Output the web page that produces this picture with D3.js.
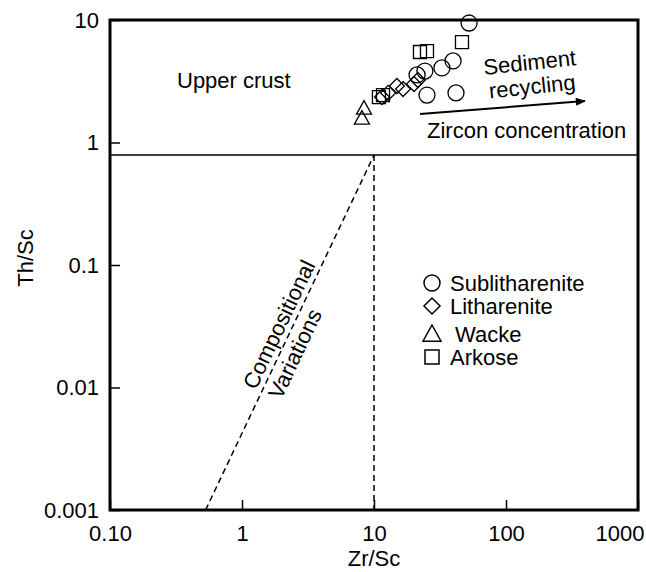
<!DOCTYPE html>
<html>
<head>
<meta charset="utf-8">
<script src="https://cdn.jsdelivr.net/npm/d3@7"></script>
<style>
  body { margin: 0; background: #fff; }
  text { font-family: "Liberation Sans", Arial, sans-serif; fill: #000; }
</style>
</head>
<body>
<div id="chart"></div>
<script>
// Zr/Sc vs Th/Sc values
const sublitharenite = [
    { zr: 52.5, th: 9.45 }, { zr: 39.7, th: 4.63 }, { zr: 32.7, th: 4.06 },
    { zr: 24.3, th: 3.83 }, { zr: 21.2, th: 3.56 }, { zr: 25.2, th: 2.44 },
    { zr: 41.8, th: 2.54 }
];
const litharenite = [
    { zr: 11.5, th: 2.35 }, { zr: 12.8, th: 2.54 }, { zr: 14.9, th: 2.89 },
    { zr: 16.6, th: 2.73 }, { zr: 20.1, th: 3.0 }, { zr: 21.5, th: 3.24 }
];
const wacke = [
    { zr: 8.4, th: 1.91 }, { zr: 8.1, th: 1.58 }
];
const arkose = [
    { zr: 22.3, th: 5.48 }, { zr: 25.2, th: 5.58 }, { zr: 46.4, th: 6.61 },
    { zr: 10.9, th: 2.35 }, { zr: 11.7, th: 2.44 }
];

const xTickValues = [0.1, 1, 10, 100, 1000];
const xTickLabels = ["0.10", "1", "10", "100", "1000"];
const yTickValues = [0.001, 0.01, 0.1, 1, 10];
const yTickLabels = ["0.001", "0.01", "0.1", "1", "10"];

// reference lines: upper crust Th/Sc, Zr/Sc and compositional trend
const upperCrustTh = 0.79;
const upperCrustZr = 10;
const compositionLine = [{ zr: 0.53, th: 0.001 }, { zr: 10, th: 0.79 }];
const recyclingArrow = [{ zr: 22.3, th: 1.71 }, { zr: 396, th: 2.18 }];

const width = 646;
const height = 572;
const margin = { top: 20, right: 8, bottom: 62, left: 110 };
const fontSize = "22px";

const svg = d3.select("#chart")
    .append("svg")
    .attr("width", width)
    .attr("height", height);

const x = d3.scaleLog()
    .domain([0.1, 1000])
    .range([margin.left, width - margin.right]);

const y = d3.scaleLog()
    .domain([0.001, 10])
    .range([height - margin.bottom, margin.top]);

svg.append("defs").append("marker")
    .attr("id", "arrow")
    .attr("viewBox", "0 0 10 8")
    .attr("refX", 9)
    .attr("refY", 4)
    .attr("markerWidth", 11)
    .attr("markerHeight", 8)
    .attr("markerUnits", "userSpaceOnUse")
    .attr("orient", "auto")
    .append("path")
    .attr("d", "M0,0 L10,4 L0,8 Z")
    .attr("fill", "#000");

// axes with inward ticks
const xAxis = svg.append("g")
    .attr("transform", `translate(0,${y.range()[0]})`)
    .call(d3.axisBottom(x)
        .tickValues(xTickValues)
        .tickFormat((d, i) => xTickLabels[i])
        .tickSizeInner(-10)
        .tickSizeOuter(0)
        .tickPadding(15));

const yAxis = svg.append("g")
    .attr("transform", `translate(${x.range()[0]},0)`)
    .call(d3.axisLeft(y)
        .tickValues(yTickValues)
        .tickFormat((d, i) => yTickLabels[i])
        .tickSizeInner(-10)
        .tickSizeOuter(0)
        .tickPadding(11));

[xAxis, yAxis].forEach(g => {
    g.select(".domain").remove();
    g.selectAll("line").attr("stroke", "#000").attr("stroke-width", 1.5);
    g.selectAll("text")
        .attr("font-size", fontSize)
        .attr("font-family", "'Liberation Sans', Arial, sans-serif")
        .attr("fill", "#000");
});

// last x label kept inside the window
xAxis.selectAll(".tick text")
    .filter(d => d === 1000)
    .attr("text-anchor", "end")
    .attr("x", 6);

svg.append("text")
    .attr("x", (x.range()[0] + x.range()[1]) / 2)
    .attr("y", 558)
    .attr("text-anchor", "middle")
    .attr("dominant-baseline", "central")
    .attr("font-size", fontSize)
    .text("Zr/Sc");

svg.append("text")
    .attr("transform", "translate(25,258) rotate(-90)")
    .attr("text-anchor", "middle")
    .attr("dominant-baseline", "central")
    .attr("font-size", fontSize)
    .text("Th/Sc");

// reference lines
svg.append("line")
    .attr("x1", x.range()[0]).attr("x2", x.range()[1])
    .attr("y1", y(upperCrustTh)).attr("y2", y(upperCrustTh))
    .attr("stroke", "#000").attr("stroke-width", 1.6);

svg.append("line")
    .attr("x1", x(upperCrustZr)).attr("x2", x(upperCrustZr))
    .attr("y1", y(upperCrustTh)).attr("y2", y.range()[0])
    .attr("stroke", "#000").attr("stroke-width", 1.5)
    .attr("stroke-dasharray", "6,4");

const line = d3.line().x(d => x(d.zr)).y(d => y(d.th));

svg.append("path")
    .attr("d", line(compositionLine))
    .attr("fill", "none")
    .attr("stroke", "#000").attr("stroke-width", 1.5)
    .attr("stroke-dasharray", "6,4");

svg.append("path")
    .attr("d", line(recyclingArrow))
    .attr("fill", "none")
    .attr("stroke", "#000").attr("stroke-width", 2)
    .attr("marker-end", "url(#arrow)");

// labels
const p0 = compositionLine[0], p1 = compositionLine[1];
const angle = Math.atan2(y(p1.th) - y(p0.th), x(p1.zr) - x(p0.zr)) * 180 / Math.PI;
const comp = svg.append("text")
    .attr("transform", `translate(288,335) rotate(${angle})`)
    .attr("font-size", fontSize);
comp.append("tspan").attr("x", -64).attr("y", -5).text("Compositional");
comp.append("tspan").attr("x", -62).attr("y", 22).text("Variations");

svg.append("text")
    .attr("x", 177).attr("y", 88)
    .attr("font-size", fontSize)
    .text("Upper crust");

const rec = svg.append("text")
    .attr("transform", "translate(531,75) rotate(-6)")
    .attr("text-anchor", "middle")
    .attr("font-size", fontSize);
rec.append("tspan").attr("x", 0).attr("y", -5).text("Sediment");
rec.append("tspan").attr("x", 0).attr("y", 19).text("recycling");

svg.append("text")
    .attr("x", 427).attr("y", 138)
    .attr("font-size", fontSize)
    .text("Zircon concentration");

// symbols
const shapes = {
    circle: { draw(ctx, r) { ctx.moveTo(r, 0); ctx.arc(0, 0, r, 0, 2 * Math.PI); } },
    diamond: { draw(ctx, r) { ctx.moveTo(0, -r); ctx.lineTo(r, 0); ctx.lineTo(0, r); ctx.lineTo(-r, 0); ctx.closePath(); } },
    triangle: { draw(ctx, r) { ctx.moveTo(0, -r); ctx.lineTo(r, r * 0.8); ctx.lineTo(-r, r * 0.8); ctx.closePath(); } },
    square: { draw(ctx, r) { ctx.rect(-r, -r, 2 * r, 2 * r); } }
};

const groups = [
    { name: "Sublitharenite", data: sublitharenite, shape: shapes.circle, size: 8, legendSize: 8 },
    { name: "Litharenite", data: litharenite, shape: shapes.diamond, size: 7.5, legendSize: 8 },
    { name: "Wacke", data: wacke, shape: shapes.triangle, size: 7.5, legendSize: 9 },
    { name: "Arkose", data: arkose, shape: shapes.square, size: 6.5, legendSize: 7 }
];

groups.forEach(g => {
    svg.append("g").selectAll("path")
        .data(g.data)
        .enter()
        .append("path")
        .attr("transform", d => `translate(${x(d.zr)},${y(d.th)})`)
        .attr("d", d3.symbol().type(g.shape).size(g.size))
        .attr("fill", "none")
        .attr("stroke", "#000")
        .attr("stroke-width", 1.3);
});

// legend
const legendY = [283, 306, 334, 357];
const legendTextX = [450, 450, 455, 450];
const legend = svg.append("g");
groups.forEach((g, i) => {
    legend.append("path")
        .attr("transform", `translate(432,${legendY[i]})`)
        .attr("d", d3.symbol().type(g.shape).size(g.legendSize))
        .attr("fill", "none")
        .attr("stroke", "#000")
        .attr("stroke-width", 1.5);
    legend.append("text")
        .attr("x", legendTextX[i])
        .attr("y", legendY[i])
        .attr("dominant-baseline", "central")
        .attr("font-size", fontSize)
        .text(g.name);
});

// frame
svg.append("rect")
    .attr("x", x.range()[0])
    .attr("y", y.range()[1])
    .attr("width", x.range()[1] - x.range()[0])
    .attr("height", y.range()[0] - y.range()[1])
    .attr("fill", "none")
    .attr("stroke", "#000")
    .attr("stroke-width", 3);
</script>
</body>
</html>
